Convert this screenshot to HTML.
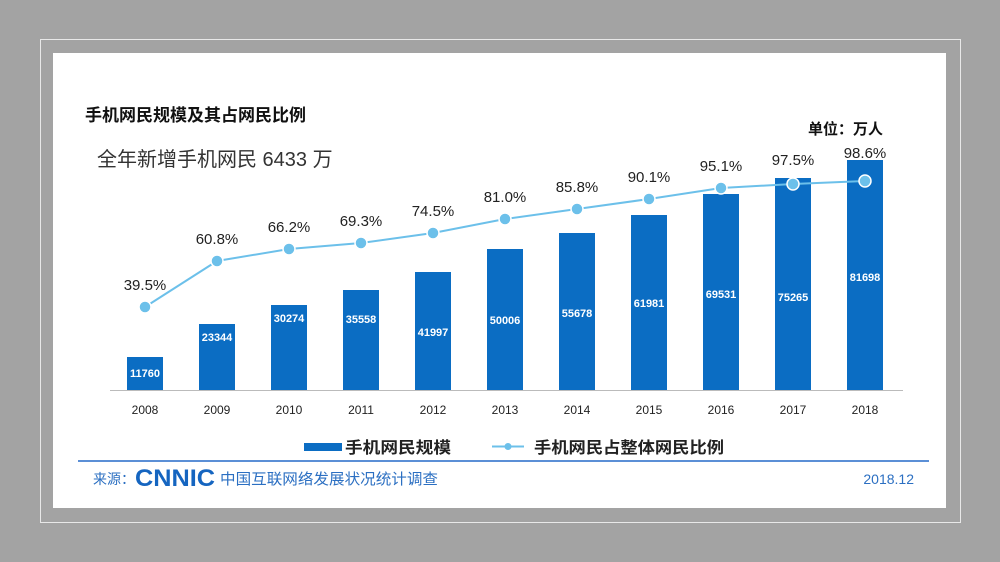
<!DOCTYPE html>
<html><head><meta charset="utf-8"><style>
body{margin:0;width:1000px;height:562px;background:#a3a3a3;overflow:hidden}
svg{display:block}
text{font-family:"Liberation Sans","Noto Sans CJK SC",sans-serif}
</style></head><body>
<svg width="1000" height="562" viewBox="0 0 1000 562">
<rect x="0" y="0" width="1000" height="562" fill="#a3a3a3"/>
<rect x="40.5" y="39.5" width="920" height="483" fill="none" stroke="#e8e8e8" stroke-width="1"/>
<rect x="53" y="53" width="893" height="455" fill="#ffffff"/>
<text x="85" y="121" font-size="17" font-weight="bold" fill="#111" font-family="Noto Serif CJK SC,serif">手机网民规模及其占网民比例</text>
<text x="97" y="166" font-size="20" fill="#333">全年新增手机网民 6433 万</text>
<text x="808" y="134" font-size="15" font-weight="bold" fill="#111">单位：万人</text>
<line x1="110" y1="390.5" x2="903" y2="390.5" stroke="#bbb" stroke-width="1"/>
<g fill="#0b6dc3">
<rect x="127" y="357" width="36" height="33"/>
<rect x="199" y="324" width="36" height="66"/>
<rect x="271" y="305" width="36" height="85"/>
<rect x="343" y="290" width="36" height="100"/>
<rect x="415" y="272" width="36" height="118"/>
<rect x="487" y="249" width="36" height="141"/>
<rect x="559" y="233" width="36" height="157"/>
<rect x="631" y="215" width="36" height="175"/>
<rect x="703" y="194" width="36" height="196"/>
<rect x="775" y="178" width="36" height="212"/>
<rect x="847" y="160" width="36" height="230"/>
</g>
<g font-size="11" font-weight="bold" fill="#fff" text-anchor="middle">
<text x="145" y="377">11760</text><text x="217" y="341">23344</text><text x="289" y="322">30274</text>
<text x="361" y="323">35558</text><text x="433" y="336">41997</text><text x="505" y="324">50006</text>
<text x="577" y="317">55678</text><text x="649" y="307">61981</text><text x="721" y="298">69531</text>
<text x="793" y="301">75265</text><text x="865" y="281">81698</text>
</g>
<polyline fill="none" stroke="#6cc0ea" stroke-width="2" points="145,307 217,261 289,249 361,243 433,233 505,219 577,209 649,199 721,188 793,184 865,181"/>
<g fill="#6cc0ea" stroke="#fff" stroke-width="1.5">
<circle cx="145" cy="307" r="6"/><circle cx="217" cy="261" r="6"/><circle cx="289" cy="249" r="6"/>
<circle cx="361" cy="243" r="6"/><circle cx="433" cy="233" r="6"/><circle cx="505" cy="219" r="6"/>
<circle cx="577" cy="209" r="6"/><circle cx="649" cy="199" r="6"/><circle cx="721" cy="188" r="6"/>
<circle cx="793" cy="184" r="6"/><circle cx="865" cy="181" r="6"/>
</g>
<g font-size="15" fill="#222" text-anchor="middle">
<text x="145" y="290">39.5%</text><text x="217" y="244">60.8%</text><text x="289" y="232">66.2%</text>
<text x="361" y="226">69.3%</text><text x="433" y="216">74.5%</text><text x="505" y="202">81.0%</text>
<text x="577" y="192">85.8%</text><text x="649" y="182">90.1%</text><text x="721" y="171">95.1%</text>
<text x="793" y="165">97.5%</text><text x="865" y="158">98.6%</text>
</g>
<g font-size="12" fill="#222" text-anchor="middle">
<text x="145" y="414">2008</text><text x="217" y="414">2009</text><text x="289" y="414">2010</text>
<text x="361" y="414">2011</text><text x="433" y="414">2012</text><text x="505" y="414">2013</text>
<text x="577" y="414">2014</text><text x="649" y="414">2015</text><text x="721" y="414">2016</text>
<text x="793" y="414">2017</text><text x="865" y="414">2018</text>
</g>
<rect x="304" y="443" width="38" height="8" fill="#0b6dc3"/>
<text x="345" y="453" font-size="16" font-weight="bold" fill="#222" textLength="106" lengthAdjust="spacingAndGlyphs">手机网民规模</text>
<line x1="492" y1="446.5" x2="524" y2="446.5" stroke="#6cc0ea" stroke-width="2"/>
<circle cx="508" cy="446.5" r="3.5" fill="#6cc0ea"/>
<text x="534" y="453" font-size="16" font-weight="bold" fill="#222" textLength="190" lengthAdjust="spacingAndGlyphs">手机网民占整体网民比例</text>
<line x1="78" y1="461" x2="929" y2="461" stroke="#5b8fd6" stroke-width="2"/>
<text x="93" y="484" font-size="14" fill="#2b6fc2">来源：</text>
<text x="135" y="486" font-size="24" font-weight="bold" fill="#1565c0" textLength="80" lengthAdjust="spacingAndGlyphs">CNNIC</text>
<text x="220" y="484" font-size="15" fill="#2b6fc2" textLength="218" lengthAdjust="spacingAndGlyphs">中国互联网络发展状况统计调查</text>
<text x="914" y="484" font-size="14" fill="#2b6fc2" text-anchor="end">2018.12</text>
</svg>
</body></html>
